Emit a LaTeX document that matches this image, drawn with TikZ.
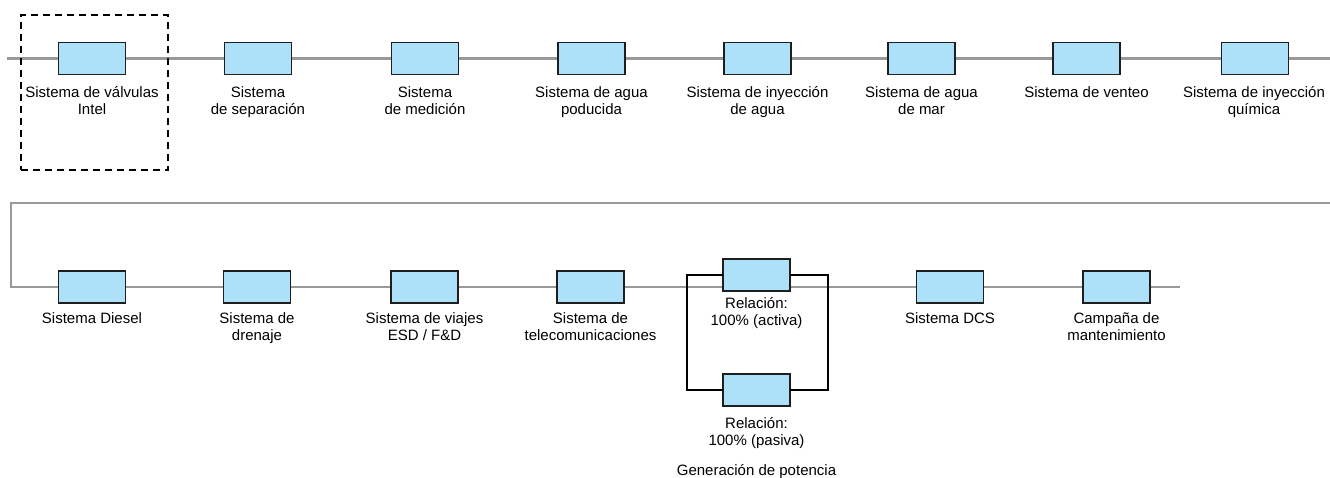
\documentclass[tikz,border=0pt]{standalone}
\usepackage{fontspec}
\setmainfont{Liberation Sans}
\usetikzlibrary{backgrounds}
\definecolor{wiregray}{HTML}{999999}
\definecolor{boxblue}{HTML}{ADE1FA}
\definecolor{boxline}{HTML}{1E1E1E}
\begin{document}
\begin{tikzpicture}[x=1pt,y=-1pt,
  sysbox/.style={draw=boxline, line width=1.3pt, fill=boxblue, minimum width=67pt, minimum height=32pt, inner sep=0pt, outer sep=0pt},
  wire/.style={draw=wiregray, line width=2.8pt},
  lab/.style={anchor=north, inner sep=0pt, align=center, font=\fontsize{15}{17}\selectfont},
  grp/.style={draw=black, line width=1.5pt, dash pattern=on 7pt off 5pt, minimum width=147pt, minimum height=155pt, inner sep=0pt},
  parline/.style={draw=black, line width=1.5pt}]
\useasboundingbox (0,0) rectangle (1330,477);

% group frame
\node[grp] (g) at (94.5,92.5) {};

% row 1
\node[sysbox] (a1) at (92,58.5) {};
\node[sysbox] (a2) at (258,58.5) {};
\node[sysbox] (a3) at (425,58.5) {};
\node[sysbox] (a4) at (591.5,58.5) {};
\node[sysbox] (a5) at (757.5,58.5) {};
\node[sysbox] (a6) at (921.5,58.5) {};
\node[sysbox] (a7) at (1086.5,58.5) {};
\node[sysbox] (a8) at (1255,58.5) {};

\node[lab] (la1) at (92,85) {\strut Sistema de válvulas\\Intel};
\node[lab] (la2) at (258,85) {\strut Sistema\\de separación};
\node[lab] (la3) at (425,85) {\strut Sistema\\de medición};
\node[lab] (la4) at (591.5,85) {\strut Sistema de agua\\poducida};
\node[lab] (la5) at (757.5,85) {\strut Sistema de inyección\\de agua};
\node[lab] (la6) at (921.5,85) {\strut Sistema de agua\\de mar};
\node[lab] (la7) at (1086.5,85) {\strut Sistema de venteo};
\node[lab] (la8) at (1254,85) {\strut Sistema de inyección\\química};

% row 2
\node[sysbox] (b1) at (92,287) {};
\node[sysbox] (b2) at (257,287) {};
\node[sysbox] (b3) at (424.5,287) {};
\node[sysbox] (b4) at (590.5,287) {};
\node[sysbox] (pa) at (756.5,275) {};
\node[sysbox] (pb) at (756.5,390) {};
\node[sysbox] (b6) at (950,287) {};
\node[sysbox] (b7) at (1116.5,287) {};

\node[lab] (lb1) at (92,311) {\strut Sistema Diesel};
\node[lab] (lb2) at (257,311) {\strut Sistema de\\drenaje};
\node[lab] (lb3) at (424.5,311) {\strut Sistema de viajes\\ESD / F\&D};
\node[lab] (lb4) at (590.5,311) {\strut Sistema de\\telecomunicaciones};
\node[lab] (lpa) at (756.5,296) {\strut Relación:\\100\% (activa)};
\node[lab] (lpb) at (756.5,416) {\strut Relación:\\100\% (pasiva)};
\node[lab] (lb6) at (950,311) {\strut Sistema DCS};
\node[lab] (lb7) at (1116.5,311) {\strut Campaña de\\mantenimiento};
\node[lab] (lgen) at (756.5,463) {\strut Generación de potencia};

% free ends
\coordinate (s1) at (7,58.5);
\coordinate (e1) at (1330,58.5);
\coordinate (w1) at (1330,203);
\coordinate (w2) at (11,203);
\coordinate (e2) at (1180,287);
\coordinate (pl) at (687,0);
\coordinate (pr) at (828,0);

\begin{scope}[on background layer]
\draw[wire] (s1) -- (a1) -- (a2) -- (a3) -- (a4) -- (a5) -- (a6) -- (a7) -- (a8) -- (e1);
\draw[wire] (w1) -- (w2) |- (b1);
\draw[wire] (b1) -- (b2) -- (b3) -- (b4);
\draw[wire] (b4) -- (b6);
\draw[wire] (b6) -- (b7) -- (e2);
\end{scope}

% parallel block
\draw[parline] (pa.west) -- (pa.west -| pl) -- (pb.west -| pl) -- (pb.west);
\draw[parline] (pa.east) -- (pa.east -| pr) -- (pb.east -| pr) -- (pb.east);
\end{tikzpicture}
\end{document}
